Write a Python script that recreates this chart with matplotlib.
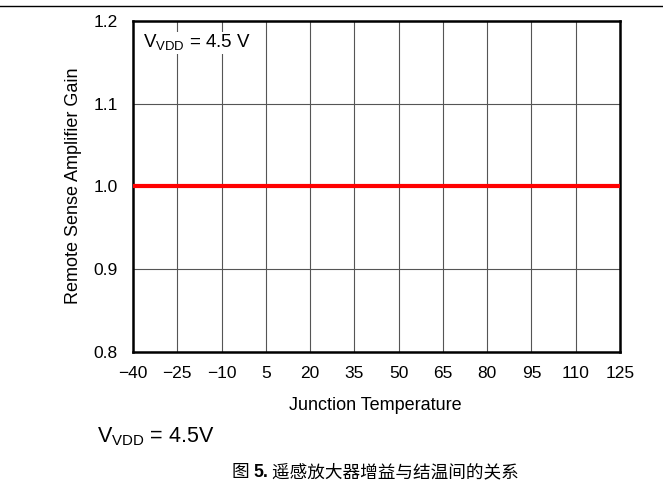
import matplotlib
matplotlib.use("Agg")
import matplotlib.pyplot as plt
from matplotlib.lines import Line2D

temps = [-40, -25, -10, 5, 20, 35, 50, 65, 80, 95, 110, 125]
gain = [1.0, 1.0, 1.0, 1.0, 1.0, 1.0, 1.0, 1.0, 1.0, 1.0, 1.0, 1.0]
yticks = [0.8, 0.9, 1.0, 1.1, 1.2]
xtick_labels = ["\u221240", "\u221225", "\u221210", "5", "20", "35", "50", "65", "80", "95", "110", "125"]

plt.rcParams['font.family'] = ['Liberation Sans', 'DejaVu Sans']

fig = plt.figure(figsize=(6.63, 4.98), dpi=100)
L, R, T, B = 133, 620, 21, 352
ax = fig.add_axes([L/663, 1-B/498, (R-L)/663, (B-T)/498])

ax.plot(temps, gain, color='#ff0000', lw=3, solid_capstyle='butt', zorder=3)
ax.set_xlim(-40, 125)
ax.set_ylim(0.8, 1.2)
ax.set_xticks(temps)
ax.set_xticklabels(xtick_labels)
ax.set_yticks(yticks)
ax.set_yticklabels([f"{v:.1f}" for v in yticks])
ax.tick_params(length=0, labelsize=12.5)
ax.tick_params(axis='x', pad=10)
ax.tick_params(axis='y', pad=11)
ax.grid(True, color='#555555', lw=0.8)
for s in ax.spines.values():
    s.set_linewidth(1.8)
    s.set_color('black')

ax.set_xlabel("Junction Temperature", fontsize=13)
ax.set_ylabel("Remote Sense Amplifier Gain", fontsize=13)
ax.xaxis.set_label_coords((375-L)/(R-L), (B-405)/(B-T))
ax.xaxis.label.set_va('center')
ax.yaxis.set_label_coords((73-L)/(R-L), (B-186)/(B-T))
ax.yaxis.label.set_va('center')

ax.text((143-L)/(R-L), (B-43)/(B-T), r"V$_\mathregular{VDD}$ = 4.5 V", transform=ax.transAxes,
        fontsize=13.5, va='center', ha='left',
        bbox=dict(facecolor='white', edgecolor='none', pad=1))

fig.add_artist(Line2D([0, 1], [1-6/498, 1-6/498], transform=fig.transFigure, color='black', lw=1))

fig.text(97/663, 1-437/498, r"V$_\mathregular{VDD}$ = 4.5V", fontsize=15.5, va='center', ha='left')

cap_y = 1-472/498
t1 = fig.text(232/663, cap_y, "图 ", fontsize=12.7, va='center', ha='left',
              family=['Noto Sans CJK SC', 'DejaVu Sans'])
t2 = ax.annotate("5.", xy=(1, 0.5), xycoords=t1, fontsize=12.7, fontweight='bold',
                 va='center', ha='left', annotation_clip=False)
t3 = ax.annotate(" 遥感放大器增益与结温间的关系", xy=(1, 0.5), xycoords=t2, fontsize=12.7,
                 va='center', ha='left', family=['Noto Sans CJK SC', 'DejaVu Sans'],
                 annotation_clip=False)

fig.savefig("out.png", dpi=100)
